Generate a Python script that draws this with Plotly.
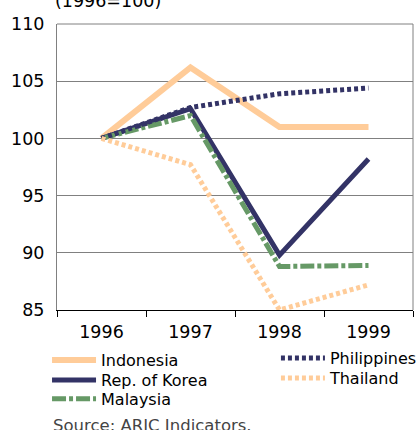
import plotly.graph_objects as go

# Real effective exchange rate index (1996=100)
years = ["1996", "1997", "1998", "1999"]

indonesia = [100.0, 106.2, 101.0, 101.0]
korea = [100.0, 102.6, 89.8, 98.2]
malaysia = [100.0, 102.0, 88.8, 88.9]
philippines = [100.0, 102.7, 103.9, 104.4]
thailand = [100.0, 97.7, 85.0, 87.2]

y_ticks = [85, 90, 95, 100, 105, 110]

PEACH = "#FFCC99"
NAVY = "#333366"
GREEN = "#669966"

fig = go.Figure()

# one small legend per series so the two columns can be placed freely
fig.add_trace(go.Scatter(x=years, y=indonesia, name="Indonesia", mode="lines",
                         line=dict(color=PEACH, width=6), legend="legend"))
fig.add_trace(go.Scatter(x=years, y=korea, name="Rep. of Korea", mode="lines",
                         line=dict(color=NAVY, width=5), legend="legend2"))
fig.add_trace(go.Scatter(x=years, y=malaysia, name="Malaysia", mode="lines",
                         line=dict(color=GREEN, width=5, dash="14px,3px,4px,3px"),
                         legend="legend3"))
fig.add_trace(go.Scatter(x=years, y=philippines, name="Philippines", mode="lines",
                         line=dict(color=NAVY, width=5, dash="4px,3px"), legend="legend4"))
fig.add_trace(go.Scatter(x=years, y=thailand, name="Thailand", mode="lines",
                         line=dict(color=PEACH, width=5, dash="4px,3px"), legend="legend5"))

font = "DejaVu Sans, Verdana, sans-serif"


def leg(x, y):
    return dict(x=x, y=y, xanchor="left", yanchor="middle",
                font=dict(size=16), itemwidth=44, bgcolor="rgba(0,0,0,0)")


fig.update_layout(
    width=416, height=430,
    margin=dict(l=57, r=3, t=24, b=120, autoexpand=False),
    paper_bgcolor="white",
    plot_bgcolor="white",
    font=dict(family=font, color="black", size=17.5),
    showlegend=True,
    legend=leg(-0.028, -0.175),
    legend2=leg(-0.028, -0.245),
    legend3=leg(-0.028, -0.311),
    legend4=leg(0.615, -0.168),
    legend5=leg(0.615, -0.238),
    xaxis=dict(type="category", range=[-0.5, 3.5], showgrid=False,
               showline=True, linecolor="black", linewidth=1,
               ticks="outside", ticklen=6, tickcolor="black", tickson="boundaries",
               tickfont=dict(size=17.5), ticklabelstandoff=6, automargin=False),
    yaxis=dict(range=[85, 110], tickvals=y_ticks, showgrid=True,
               gridcolor="#808080", gridwidth=1, zeroline=False,
               showline=True, linecolor="#808080", linewidth=1,
               ticks="", tickfont=dict(size=17.5), ticklabelstandoff=8,
               automargin=False),
    annotations=[
        dict(text="(1996=100)", xref="paper", yref="paper", x=-0.01, y=1.0,
             xanchor="left", yanchor="bottom", yshift=11, showarrow=False,
             font=dict(size=17.5, color="black")),
        dict(text="Source: ARIC Indicators.", xref="paper", yref="paper",
             x=-0.018, y=-0.362, xanchor="left", yanchor="top", showarrow=False,
             font=dict(size=16.5, color="#444444")),
    ],
)

# grey frame on top and right
fig.add_shape(type="line", xref="paper", yref="paper", x0=0, x1=1, y0=1, y1=1,
              line=dict(color="#808080", width=1))
fig.add_shape(type="line", xref="paper", yref="paper", x0=1, x1=1, y0=0, y1=1,
              line=dict(color="#808080", width=1))

fig.write_html("out.html", config={"displayModeBar": False},
               post_script="document.body.style.margin='0';")
